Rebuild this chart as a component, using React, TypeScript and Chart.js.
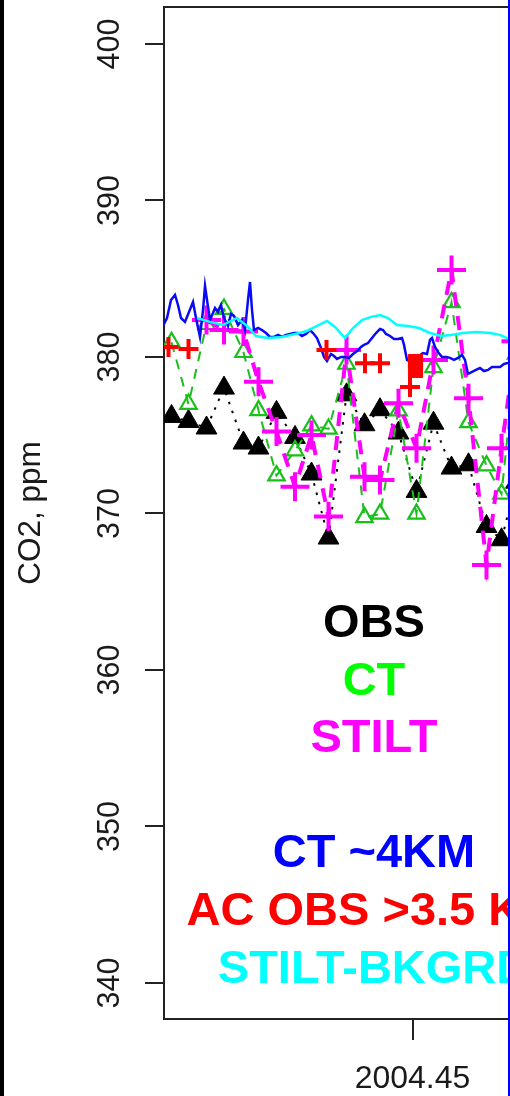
import React, { useEffect, useRef } from 'react';
import { Chart, registerables } from 'chart.js';

Chart.register(...registerables);

// ---- data (decimal year, CO2 ppm) ----
const obsTimes = [2004.4017, 2004.4051, 2004.4087, 2004.4122, 2004.4161, 2004.4191, 2004.4227, 2004.4264, 2004.4297, 2004.4331, 2004.4367, 2004.4403, 2004.4434, 2004.4471, 2004.4507, 2004.4541, 2004.4577, 2004.4611, 2004.4647, 2004.4677, 2004.4706];
const obsCO2 = [376.2, 375.88, 375.46, 378.01, 374.5, 374.18, 376.46, 374.86, 372.52, 368.43, 377.58, 375.67, 376.63, 375.14, 371.41, 375.77, 372.9, 373.11, 369.17, 368.32, 372.0];
const ctCO2 = [380.94, 376.99, 382.09, 383.06, 380.3, 376.59, 372.42, 374.02, 375.61, 375.4, 379.55, 369.75, 369.97, 376.57, 369.97, 379.34, 383.49, 375.82, 373.06, 371.25, 380.2];
const stiltCO2 = [null, null, 382.36, 381.73, 381.62, 378.42, 375.23, 371.71, 375.02, 369.8, 380.45, 372.35, 372.14, 377.04, 374.17, 379.81, 385.56, 377.36, 366.71, 374.17, 381.0];

const acTimes = [2004.4011, 2004.4051, 2004.4327, 2004.4404, 2004.4434, 2004.4494, 2004.4505, 2004.4505];
const acCO2 = [380.64, 380.51, 380.45, 379.6, 379.6, 378.08, 379.71, 379.14];
const acMarkers = ['cross', 'cross', 'cross', 'cross', 'cross', 'cross', 'rect', 'rect'];

const ct4kmTimes = [2004.4, 2004.4008, 2004.4016, 2004.4024, 2004.403, 2004.4036, 2004.4044, 2004.4052, 2004.406, 2004.4066, 2004.4074, 2004.408, 2004.4084, 2004.4088, 2004.4094, 2004.41, 2004.4104, 2004.411, 2004.4116, 2004.4122, 2004.413, 2004.4136, 2004.4142, 2004.415, 2004.4158, 2004.4164, 2004.417, 2004.4174, 2004.4178, 2004.4182, 2004.419, 2004.4198, 2004.4206, 2004.4214, 2004.4222, 2004.423, 2004.4238, 2004.4246, 2004.4254, 2004.4262, 2004.427, 2004.4278, 2004.4286, 2004.4294, 2004.43, 2004.4308, 2004.4316, 2004.4322, 2004.4328, 2004.4336, 2004.4342, 2004.4348, 2004.4356, 2004.4364, 2004.4372, 2004.438, 2004.4388, 2004.4396, 2004.4402, 2004.441, 2004.4418, 2004.4426, 2004.4434, 2004.444, 2004.4446, 2004.4454, 2004.4462, 2004.447, 2004.4478, 2004.4482, 2004.4488, 2004.4496, 2004.4504, 2004.4512, 2004.452, 2004.4528, 2004.4534, 2004.4538, 2004.4544, 2004.455, 2004.4558, 2004.4566, 2004.4574, 2004.4582, 2004.459, 2004.4598, 2004.4604, 2004.461, 2004.4618, 2004.4626, 2004.4634, 2004.4642, 2004.465, 2004.4658, 2004.4666, 2004.4674, 2004.4682, 2004.469, 2004.4702, 2004.4714];
const ct4kmCO2 = [381.98, 382.49, 383.64, 383.96, 383.32, 382.49, 382.24, 382.87, 383.51, 382.49, 381.28, 383.0, 384.54, 383.64, 382.36, 382.81, 383.13, 382.87, 383.32, 382.49, 381.98, 382.75, 382.62, 382.04, 382.36, 381.72, 383.64, 384.79, 383.0, 381.72, 381.85, 381.72, 381.53, 381.28, 381.28, 381.41, 381.28, 381.41, 381.47, 381.53, 381.53, 381.34, 381.47, 381.72, 381.53, 381.21, 380.57, 380.0, 379.74, 380.19, 380.06, 379.87, 380.0, 380.0, 379.94, 380.19, 380.38, 380.64, 380.77, 380.89, 381.21, 381.53, 381.79, 381.72, 381.47, 381.34, 381.15, 381.15, 381.21, 380.77, 379.81, 379.68, 379.94, 380.06, 380.25, 380.19, 381.09, 381.21, 380.64, 380.32, 380.0, 380.0, 379.94, 379.81, 379.94, 380.13, 379.81, 378.91, 379.04, 379.17, 379.3, 379.1, 379.17, 379.36, 379.36, 379.36, 379.55, 379.62, 379.68, 379.55];

const bkgTimes = [2004.4068, 2004.4094, 2004.412, 2004.4148, 2004.4168, 2004.4186, 2004.421, 2004.4238, 2004.4264, 2004.4288, 2004.4308, 2004.4328, 2004.4344, 2004.4364, 2004.438, 2004.4398, 2004.4416, 2004.4434, 2004.445, 2004.4468, 2004.449, 2004.4512, 2004.4534, 2004.4556, 2004.4576, 2004.46, 2004.4628, 2004.4654, 2004.4674, 2004.4688, 2004.4704];
const bkgCO2 = [382.49, 382.24, 382.04, 382.49, 381.98, 381.34, 381.21, 381.28, 381.47, 381.66, 381.98, 382.3, 381.92, 381.21, 381.85, 382.36, 382.56, 382.68, 382.49, 382.04, 381.98, 381.85, 381.53, 381.34, 381.41, 381.53, 381.6, 381.53, 381.41, 381.21, 381.15];

const yTicks = [340, 350, 360, 370, 380, 390, 400];
const xTicks = [2004.45];
const yTitle = 'CO2, ppm';
const legendLabels = ['OBS', 'CT', 'STILT', '', 'CT ~4KM', 'AC OBS >3.5 KM', 'STILT-BKGRD'];
const legendColors = ['#000000', '#00ff00', '#ff00ff', '#000000', '#0000ff', '#ff0000', '#00ffff'];

const FONT = '"Liberation Sans", Arial, Helvetica, sans-serif';

const pts = (xs: number[], ys: (number | null)[]) => xs.map((x, i) => ({ x, y: ys[i] }));

const overlayPlugin = {
  id: 'overlay',
  afterDraw(chart: any) {
    const ctx = chart.ctx;
    const ca = chart.chartArea;
    const xs = chart.scales.x;
    const ys = chart.scales.y;
    ctx.save();
    // box top / right
    ctx.strokeStyle = '#222';
    ctx.lineWidth = 2;
    ctx.beginPath();
    ctx.moveTo(ca.left - 1, ca.top);
    ctx.lineTo(ca.right, ca.top);
    ctx.lineTo(ca.right, ca.bottom);
    ctx.stroke();

    // y tick labels (rotated)
    ctx.fillStyle = '#1a1a1a';
    ctx.font = `30.5px ${FONT}`;
    ctx.textAlign = 'center';
    ctx.textBaseline = 'alphabetic';
    yTicks.forEach((v) => {
      const y = ys.getPixelForValue(v);
      ctx.save();
      ctx.translate(118.5, y);
      ctx.rotate(-Math.PI / 2);
      ctx.fillText(String(v), 0, 0);
      ctx.restore();
    });
    // x tick labels
    ctx.font = `32px ${FONT}`;
    xTicks.forEach((v) => {
      const x = xs.getPixelForValue(v);
      ctx.fillText(v.toFixed(2), x - 0.5, 1088);
    });
    // y title
    ctx.save();
    ctx.font = `31.5px ${FONT}`;
    ctx.translate(39.5, (ca.top + ca.bottom) / 2);
    ctx.rotate(-Math.PI / 2);
    ctx.fillText(yTitle, 0, 0);
    ctx.restore();

    // legend text
    ctx.font = `bold 47px ${FONT}`;
    ctx.textAlign = 'center';
    legendLabels.forEach((t, i) => {
      if (!t) return;
      ctx.fillStyle = legendColors[i];
      ctx.fillText(t, 374, 637 + i * 57.6);
    });

    // frame strips
    ctx.fillStyle = '#000000';
    ctx.fillRect(0, 0, 4, chart.height);
    ctx.fillStyle = '#0000ff';
    ctx.fillRect(508, 0, 2, chart.height);
    ctx.restore();
  },
};

export default function App() {
  const ref = useRef<HTMLCanvasElement | null>(null);
  useEffect(() => {
    if (!ref.current) return;
    const green = '#19c019';
    const chart = new Chart(ref.current, {
      type: 'line',
      data: {
        datasets: [
          {
            label: 'AC OBS >3.5 KM',
            data: pts(acTimes, acCO2),
            showLine: false,
            pointStyle: acMarkers as any,
            pointRadius: 10,
            pointBorderWidth: [4, 4, 4, 4, 4, 4, 1, 1] as any,
            pointBorderColor: '#ff0000',
            pointBackgroundColor: '#ff0000',
            clip: 0 as any,
            order: 1,
          },
          {
            label: 'STILT-BKGRD',
            data: pts(bkgTimes, bkgCO2),
            borderColor: '#00ffff',
            borderWidth: 2.5,
            pointRadius: 0,
            tension: 0,
            clip: 0 as any,
            order: 2,
          },
          {
            label: 'CT ~4KM',
            data: pts(ct4kmTimes, ct4kmCO2),
            borderColor: '#0a0af5',
            borderWidth: 2.5,
            pointRadius: 0,
            tension: 0,
            clip: 0 as any,
            order: 3,
          },
          {
            label: 'STILT',
            data: pts(obsTimes, stiltCO2),
            borderColor: '#ff00ff',
            borderWidth: 4,
            borderDash: [14, 10],
            pointStyle: 'cross',
            pointRadius: 14.5,
            pointBorderWidth: 4,
            pointBorderColor: '#ff00ff',
            pointBackgroundColor: '#ff00ff',
            tension: 0,
            clip: 0 as any,
            order: 4,
          },
          {
            label: 'CT',
            data: pts(obsTimes, ctCO2),
            borderColor: green,
            borderWidth: 2,
            borderDash: [10, 8],
            pointStyle: 'triangle',
            pointRadius: 9.5,
            pointBorderWidth: 2.2,
            pointBorderColor: green,
            pointBackgroundColor: 'rgba(0,0,0,0)',
            tension: 0,
            clip: 0 as any,
            order: 5,
          },
          {
            label: 'OBS',
            data: pts(obsTimes, obsCO2),
            borderColor: '#000000',
            borderWidth: 2,
            borderDash: [2.5, 7],
            pointStyle: 'triangle',
            pointRadius: 12,
            pointBorderWidth: 1,
            pointBorderColor: '#000000',
            pointBackgroundColor: '#000000',
            tension: 0,
            clip: 0 as any,
            order: 6,
          },
        ] as any,
      },
      options: {
        responsive: false,
        animation: false,
        devicePixelRatio: 1,
        layout: { autoPadding: false, padding: { top: 7, right: 10, left: 0, bottom: 0 } },
        plugins: { legend: { display: false }, tooltip: { enabled: false } },
        scales: {
          x: {
            type: 'linear',
            min: 2004.4002,
            max: 2004.4854,
            afterBuildTicks: (s: any) => {
              s.ticks = xTicks.map((v) => ({ value: v }));
            },
            afterFit: (s: any) => {
              s.height = 77;
            },
            ticks: { display: false },
            grid: { display: true, drawOnChartArea: false, drawTicks: true, tickLength: 21, color: '#222', lineWidth: 2 },
            border: { display: true, color: '#222', width: 2 },
          },
          y: {
            type: 'linear',
            min: 337.7,
            max: 402.36,
            afterBuildTicks: (s: any) => {
              s.ticks = yTicks.map((v) => ({ value: v }));
            },
            afterFit: (s: any) => {
              s.width = 164;
            },
            ticks: { display: false },
            grid: { display: true, drawOnChartArea: false, drawTicks: true, tickLength: 19, color: '#222', lineWidth: 2 },
            border: { display: true, color: '#222', width: 2 },
          },
        },
      } as any,
      plugins: [overlayPlugin],
    });
    return () => chart.destroy();
  }, []);

  return (
    <div style={{ position: 'absolute', left: 0, top: 0, width: 510, height: 1096, overflow: 'hidden', background: '#ffffff' }}>
      <canvas ref={ref} width={600} height={1096} style={{ display: 'block', width: 600, height: 1096 }} />
    </div>
  );
}
